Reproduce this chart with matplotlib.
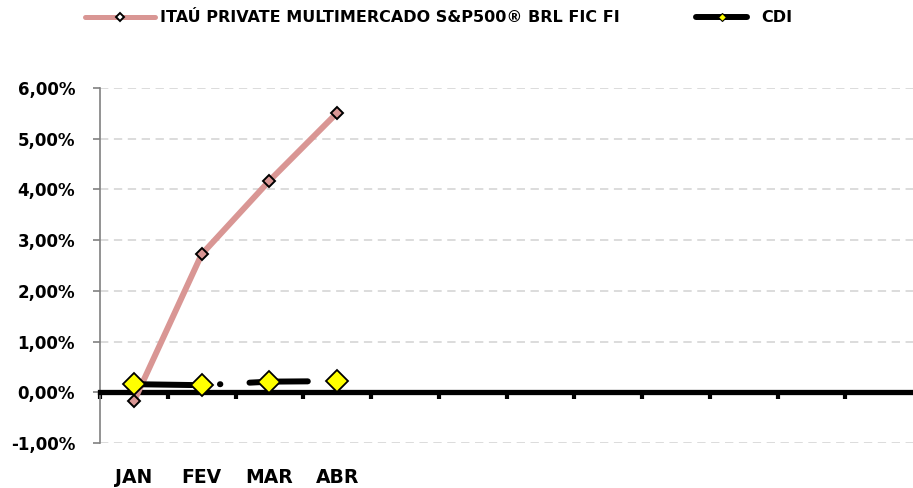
import matplotlib
matplotlib.use("Agg")
import matplotlib.pyplot as plt
from matplotlib.lines import Line2D
import matplotlib.transforms as mtransforms

plt.rcParams['font.family'] = ['DejaVu Sans']
plt.rcParams['font.weight'] = 'bold'
plt.rcParams['lines.scale_dashes'] = False

# ---- data ----
months = ["JAN", "FEV", "MAR", "ABR", "MAI", "JUN", "JUL", "AGO", "SET", "OUT", "NOV", "DEZ"]
shown_labels = ["JAN", "FEV", "MAR", "ABR", "", "", "", "", "", "", "", ""]
fund_name = "ITAÚ PRIVATE MULTIMERCADO S&P500® BRL FIC FI"
fund_values = [-0.18, 2.72, 4.17, 5.51]
cdi_name = "CDI"
cdi_values = [0.16, 0.14, 0.21, 0.22]
y_ticks = [-1, 0, 1, 2, 3, 4, 5, 6]

PINK = '#d99694'
YELLOW = '#ffff00'

fig = plt.figure(figsize=(9.13, 4.88), dpi=100)
W, H = 913, 488
ax = fig.add_axes([100 / W, 1 - 443 / H, 813 / W, (443 - 88) / H])

x = list(range(len(fund_values)))
xc = list(range(len(cdi_values)))

# fund line
ax.plot(x, fund_values, color=PINK, lw=4.3, solid_capstyle='round', zorder=3)
ax.plot(x, fund_values, ls='none', marker='D', ms=6.0, mfc=PINK, mec='black', mew=1.4, zorder=4)

# CDI line (long dash - dot pattern)
ax.plot(xc, cdi_values, color='black', lw=4.3, zorder=5,
        dash_capstyle='round', dashes=(42, 20, 0.3, 21))
ax.plot(xc, cdi_values, ls='none', marker='D', ms=11.2, mfc=YELLOW, mec='black', mew=1.3, zorder=6)

# axes
ax.set_xlim(-0.5, len(months) - 0.5)
ax.set_ylim(-1, 6)
ax.set_yticks(y_ticks)
ax.set_yticklabels([f"{v:.2f}%".replace('.', ',') for v in y_ticks], fontsize=12, fontweight='bold')
ax.yaxis.grid(True, color='#d9d9d9', lw=1.3, ls=(0, (6, 4)))
ax.set_axisbelow(True)
ax.tick_params(axis='y', direction='out', length=5, width=1.2, color='#808080', pad=13)

for s in ['top', 'right']:
    ax.spines[s].set_visible(False)
ax.spines['left'].set_color('#808080')
ax.spines['left'].set_linewidth(1.2)
ax.spines['bottom'].set_position(('data', 0))
ax.spines['bottom'].set_color('black')
ax.spines['bottom'].set_linewidth(3.8)
ax.spines['bottom'].set_zorder(2.5)

boundaries = [i - 0.5 for i in range(len(months))]
ax.set_xticks(boundaries)
ax.set_xticklabels([])
ax.tick_params(axis='x', direction='out', length=5, width=3, color='black')

trans = mtransforms.blended_transform_factory(ax.transData, ax.transAxes)
for i, lab in enumerate(shown_labels):
    if lab:
        ax.annotate(lab, xy=(i, 0), xycoords=trans, xytext=(0, -25), textcoords='offset points',
                    ha='center', va='center', fontsize=13.5, fontweight='bold')

# legends
h1 = Line2D([], [], color=PINK, lw=3.6, solid_capstyle='round', marker='D', ms=4.5,
            mfc='white', mec='black', mew=1.4)
h2 = Line2D([], [], color='black', lw=4.3, solid_capstyle='round', marker='D', ms=4.5,
            mfc=YELLOW, mec='black', mew=0.8)
fig.legend([h1], [fund_name], loc='center left', bbox_to_anchor=(85 / W, 1 - 18 / H),
           frameon=False, handlelength=4.4, handletextpad=0.3,
           borderpad=0, borderaxespad=0, prop={'weight': 'bold', 'size': 11.5})
fig.legend([h2], [cdi_name], loc='center left', bbox_to_anchor=(696 / W, 1 - 18 / H),
           frameon=False, handlelength=3.2, handletextpad=0.9,
           borderpad=0, borderaxespad=0, prop={'weight': 'bold', 'size': 11.5})

fig.savefig("out.png", dpi=100)
